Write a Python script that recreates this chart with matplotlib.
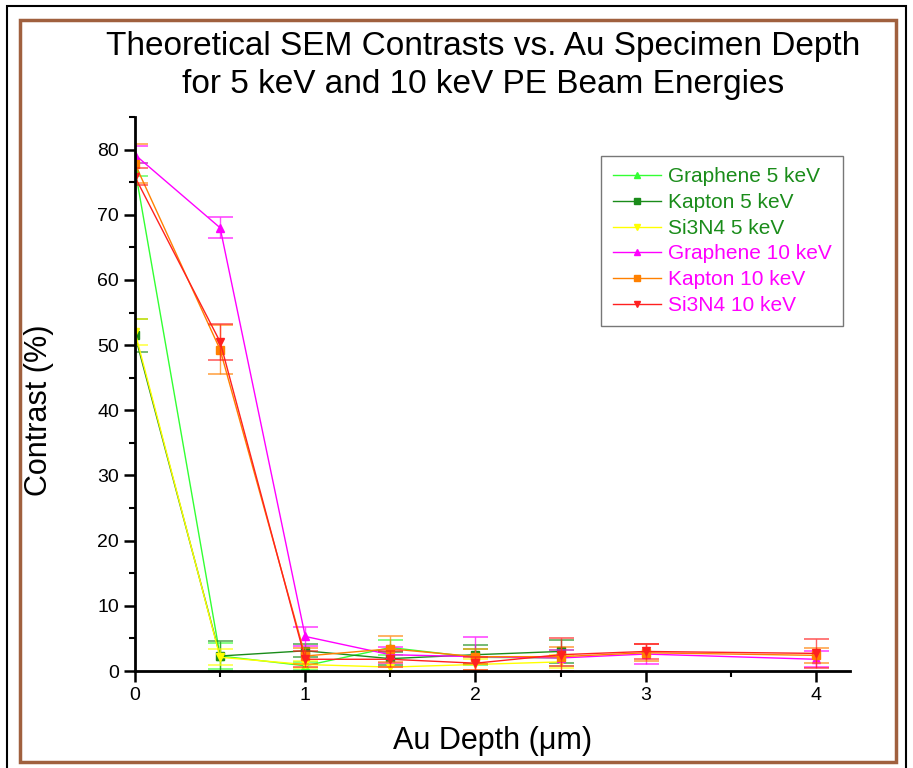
import numpy as np
import matplotlib.pyplot as plt
from matplotlib.patches import Rectangle
from matplotlib.lines import Line2D
from matplotlib.ticker import MultipleLocator

plt.rcParams['font.family'] = ['Liberation Sans', 'DejaVu Sans']

# depths (um)
x_5kev = [0, 0.5, 1, 1.5, 2, 2.5]
x_10kev = [0, 0.5, 1, 1.5, 2, 2.5, 3, 4]

# contrast values (%)
graphene_5 = [77, 2.3, 0.8, 3.6, 2.1, 2.0]
kapton_5 = [51.5, 2.3, 3.1, 1.9, 2.5, 3.0]
si3n4_5 = [52, 2.1, 1.0, 0.6, 1.0, 1.4]
graphene_10 = [79.2, 68, 5.3, 2.5, 2.2, 2.0, 2.6, 1.8]
kapton_10 = [77.8, 49.3, 2.3, 3.4, 2.2, 2.2, 2.8, 2.4]
si3n4_10 = [75.8, 50.5, 1.8, 1.8, 1.2, 2.5, 3.0, 2.7]

# error bars
graphene_5_err = [1.0, 2.0, 0.6, 1.2, 1.2, 1.2]
kapton_5_err = [2.5, 2.3, 1.0, 1.0, 1.5, 1.8]
si3n4_5_err = [2.0, 1.2, 0.6, 0.6, 0.8, 1.0]
graphene_10_err = [1.3, 1.6, 1.5, 1.2, 3.0, 1.2, 1.6, 1.2]
kapton_10_err = [3.0, 3.8, 1.2, 2.0, 1.2, 1.5, 1.3, 1.2]
si3n4_10_err = [1.3, 2.8, 1.2, 1.2, 1.0, 2.5, 1.2, 2.2]

labels = ["Graphene 5 keV", "Kapton 5 keV", "Si3N4 5 keV",
          "Graphene 10 keV", "Kapton 10 keV", "Si3N4 10 keV"]

series = [
    (x_5kev, graphene_5, graphene_5_err, '#33ff33', '^'),
    (x_5kev, kapton_5, kapton_5_err, '#1a8c1a', 's'),
    (x_5kev, si3n4_5, si3n4_5_err, '#ffff00', 'v'),
    (x_10kev, graphene_10, graphene_10_err, '#ff00ff', '^'),
    (x_10kev, kapton_10, kapton_10_err, '#ff8000', 's'),
    (x_10kev, si3n4_10, si3n4_10_err, '#ff2020', 'v'),
]

fig = plt.figure(figsize=(9.13, 7.68), dpi=100)

# outer frames
fig.patches.append(Rectangle((7 / 913, -0.01), 899 / 913, 1 - 6 / 768 + 0.01,
                             transform=fig.transFigure, fill=False,
                             edgecolor='black', linewidth=1.5))
fig.patches.append(Rectangle((20 / 913, 6 / 768), 876 / 913, 742 / 768,
                             transform=fig.transFigure, fill=False,
                             edgecolor='#a0603e', linewidth=2.5))

ax = fig.add_axes([135 / 913, 1 - 671 / 768, 715 / 913, 554 / 768])

handles = []
for (xs, ys, errs, col, mk), lab in zip(series, labels):
    ax.errorbar(xs, ys, yerr=errs, fmt='none', ecolor=col, elinewidth=1,
                capsize=9, capthick=1.2, alpha=0.7)
    ax.plot(xs, ys, color=col, marker=mk, markersize=6, linewidth=1)
    handles.append(Line2D([], [], color=col, marker=mk, markersize=5,
                          linewidth=1, label=lab))

ax.set_xlim(0, 4.2)
ax.set_ylim(0, 85)
ax.xaxis.set_major_locator(MultipleLocator(1))
ax.xaxis.set_minor_locator(MultipleLocator(0.5))
ax.yaxis.set_major_locator(MultipleLocator(10))
ax.yaxis.set_minor_locator(MultipleLocator(5))
ax.tick_params(which='major', direction='out', length=8, width=1.8, labelsize=14)
ax.tick_params(which='minor', direction='out', length=4, width=1.5)
ax.spines['top'].set_visible(False)
ax.spines['right'].set_visible(False)
ax.spines['left'].set_linewidth(2)
ax.spines['bottom'].set_linewidth(2)

ax.set_xlabel("Au Depth (\u03bcm)", fontsize=22, labelpad=16)
ax.set_ylabel("Contrast (%)", fontsize=22)
ax.yaxis.set_label_coords(-0.113, 0.47)

fig.text(483 / 913, 1 - 47 / 768, "Theoretical SEM Contrasts vs. Au Specimen Depth",
         ha='center', va='center', fontsize=24)
fig.text(483 / 913, 1 - 85 / 768, "for 5 keV and 10 keV PE Beam Energies",
         ha='center', va='center', fontsize=24)

leg = ax.legend(handles=handles, loc='upper right',
                bbox_to_anchor=(843 / 913, 1 - 156 / 768),
                bbox_transform=fig.transFigure, fontsize=15, frameon=True,
                fancybox=False, edgecolor='#555555', handlelength=2.3,
                handletextpad=0.35, labelspacing=0.32, borderpad=0.55,
                borderaxespad=0)
leg.get_frame().set_linewidth(1)
for i, t in enumerate(leg.get_texts()):
    t.set_color('#1a8c1a' if i < 3 else '#ff00ff')

fig.savefig("out.png", dpi=100)
